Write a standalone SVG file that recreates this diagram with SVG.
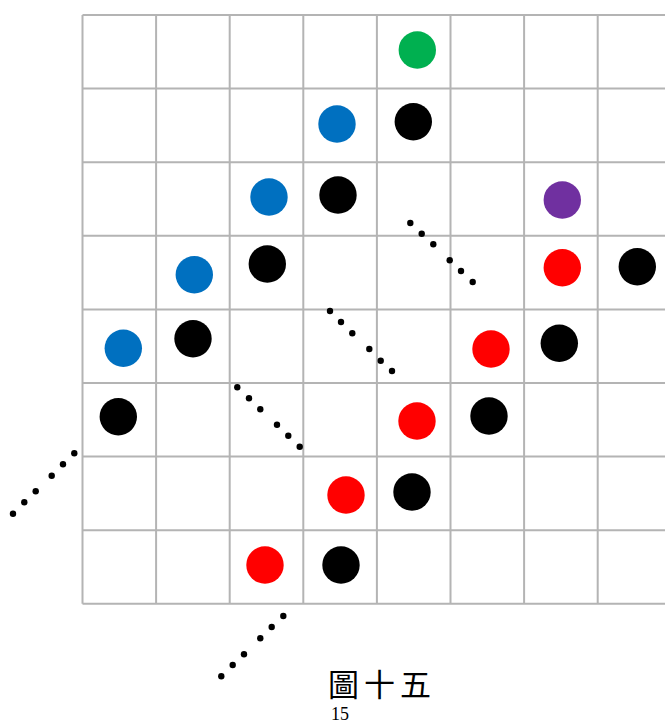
<svg xmlns="http://www.w3.org/2000/svg" width="665" height="723" viewBox="0 0 665 723">
<style>
.g{stroke:#b4b4b4;stroke-width:2;fill:none}
.k{fill:#000}
.b{fill:#0070C0}
.r{fill:#FF0000}
.gr{fill:#00B050}
.p{fill:#7030A0}
.d{fill:#000}
.t{font-family:"Noto Sans CJK TC","Noto Sans CJK SC",serif;font-size:31px}
.n{font-family:"Liberation Serif",serif;font-size:18px}
</style>
<rect width="665" height="723" fill="#fff"/>
<g id="grid" class="g">
<path d="M82.5 15V603.8M156.1 15V603.8M229.7 15V603.8M303.3 15V603.8M376.9 15V603.8M450.5 15V603.8M524.1 15V603.8M597.7 15V603.8M671.3 15V603.8"/>
<path d="M82.5 15H672M82.5 88.6H672M82.5 162.2H672M82.5 235.8H672M82.5 309.4H672M82.5 383H672M82.5 456.6H672M82.5 530.2H672M82.5 603.8H672"/>
</g>
<g id="stones">
<circle id="s1" class="gr" cx="417.3" cy="50" r="18.7"/>
<circle id="s2" class="b" cx="337" cy="124" r="18.7"/>
<circle id="s3" class="k" cx="413.3" cy="121.7" r="18.7"/>
<circle id="s4" class="b" cx="269" cy="197" r="18.7"/>
<circle id="s5" class="k" cx="338" cy="195" r="18.7"/>
<circle id="s6" class="p" cx="562.3" cy="200" r="18.7"/>
<circle id="s7" class="b" cx="194.3" cy="274.7" r="18.7"/>
<circle id="s8" class="k" cx="267.3" cy="264" r="18.7"/>
<circle id="s9" class="r" cx="562.3" cy="267.7" r="18.7"/>
<circle id="s10" class="k" cx="637.3" cy="266.7" r="18.7"/>
<circle id="s11" class="b" cx="123.3" cy="348.3" r="18.7"/>
<circle id="s12" class="k" cx="193" cy="338.7" r="18.7"/>
<circle id="s13" class="r" cx="491" cy="349" r="18.7"/>
<circle id="s14" class="k" cx="559.3" cy="343.3" r="18.7"/>
<circle id="s15" class="k" cx="118.3" cy="416.7" r="18.7"/>
<circle id="s16" class="r" cx="417" cy="421" r="18.7"/>
<circle id="s17" class="k" cx="489" cy="416" r="18.7"/>
<circle id="s18" class="r" cx="346" cy="495" r="18.7"/>
<circle id="s19" class="k" cx="412" cy="492" r="18.7"/>
<circle id="s20" class="r" cx="265" cy="565" r="18.7"/>
<circle id="s21" class="k" cx="341" cy="565" r="18.7"/>
</g>
<g id="connectors" class="d">
<circle cx="74.3" cy="453.3" r="3.2"/><circle cx="63" cy="464.3" r="3.2"/><circle cx="51.7" cy="475.7" r="3.2"/><circle cx="35.7" cy="491.3" r="3.2"/><circle cx="24.3" cy="502.3" r="3.2"/><circle cx="13" cy="513.7" r="3.2"/>
<circle cx="283.3" cy="616" r="3.2"/><circle cx="271.7" cy="627" r="3.2"/><circle cx="260.3" cy="638.3" r="3.2"/><circle cx="244" cy="654.3" r="3.2"/><circle cx="232.7" cy="665" r="3.2"/><circle cx="221.3" cy="676.3" r="3.2"/>
<circle cx="410.3" cy="223" r="3.2"/><circle cx="421.7" cy="233.7" r="3.2"/><circle cx="433.3" cy="244.3" r="3.2"/><circle cx="449.7" cy="260.3" r="3.2"/><circle cx="461" cy="271" r="3.2"/><circle cx="472.7" cy="282" r="3.2"/>
<circle cx="330" cy="311" r="3.2"/><circle cx="341" cy="322" r="3.2"/><circle cx="352.3" cy="333.3" r="3.2"/><circle cx="369.3" cy="349" r="3.2"/><circle cx="380.7" cy="360.7" r="3.2"/><circle cx="392" cy="371" r="3.2"/>
<circle cx="237.3" cy="387.3" r="3.2"/><circle cx="249" cy="398.3" r="3.2"/><circle cx="260.3" cy="409.3" r="3.2"/><circle cx="277" cy="424.7" r="3.2"/><circle cx="288.3" cy="435.7" r="3.2"/><circle cx="299.7" cy="446.7" r="3.2"/>
</g>
<g id="caption">
<text class="t" x="328" y="696" letter-spacing="5">圖十五</text>
<text class="n" x="340" y="720" text-anchor="middle">15</text>
</g>
</svg>
